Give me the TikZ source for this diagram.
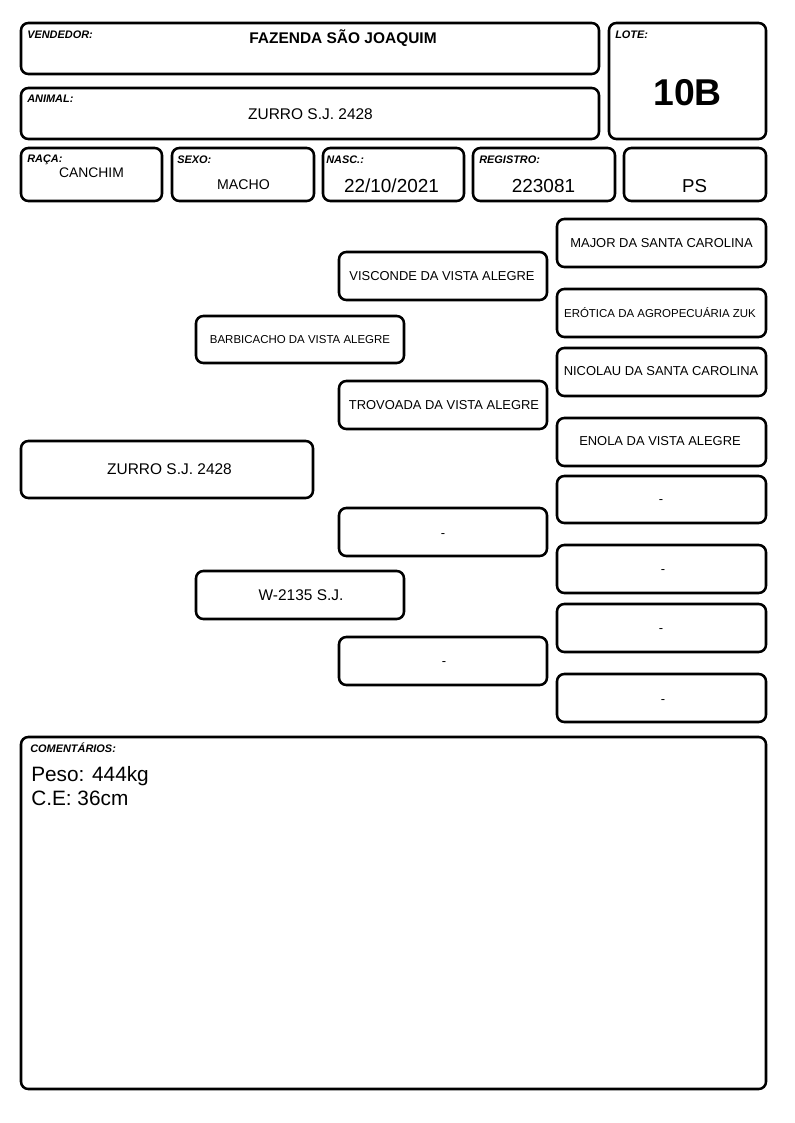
\documentclass[tikz,border=0pt]{standalone}
\usepackage{fontspec}
\setmainfont{Liberation Sans}
\newcommand\fs[1]{\fontsize{#1}{#1}\selectfont}
\begin{document}
\begin{tikzpicture}[x=0.75pt,y=-0.75pt,
  box/.style={draw=black,line width=1.9pt,rounded corners=5.5pt},
  lbl/.style={anchor=base west,inner sep=0pt,font=\fs{8.2pt}\bfseries\itshape},
  val/.style={anchor=base,inner sep=0pt},
  ped/.style={anchor=center,inner sep=0pt,font=\fs{9.7pt}},
  dashtxt/.style={anchor=base,inner sep=0pt,font=\fs{9.7pt}},
  pedsm/.style={anchor=center,inner sep=0pt,font=\fs{8.6pt}}]
\useasboundingbox[fill=white] (0,0) rectangle (794,1123);
% header boxes
\draw[box] (21,23) rectangle (599,74);
\draw[box] (609,23) rectangle (766,139);
\draw[box] (21,88) rectangle (599,139);
\draw[box] (21,148) rectangle (162,201);
\draw[box] (172,148) rectangle (314,201);
\draw[box] (323,148) rectangle (464,201);
\draw[box] (473,148) rectangle (615,201);
\draw[box] (624,148) rectangle (766,201);
\node[lbl] (lvend) at (27,39) {VENDEDOR:};
\node[val,font=\fs{11.6pt}\bfseries] (vend) at (343,44) {FAZENDA SÃO JOAQUIM};
\node[lbl] (llote) at (615,39) {LOTE:};
\node[val,font=\fs{28pt}\bfseries] (lote) at (687.5,106) {10B};
\node[lbl] (lanim) at (27,103) {ANIMAL:};
\node[val,font=\fs{11.6pt}] (anim) at (310.5,120) {ZURRO S.J. 2428};
\node[lbl] (lraca) at (27,163) {RAÇA:};
\node[val,font=\fs{10.4pt}] (raca) at (91.5,178) {CANCHIM};
\node[lbl] (lsexo) at (177,164) {SEXO:};
\node[val,font=\fs{10.6pt}] (sexo) at (243.5,190) {MACHO};
\node[lbl] (lnasc) at (326,164) {NASC.:};
\node[val,font=\fs{14.2pt}] (nasc) at (391.5,193) {22/10/2021};
\node[lbl] (lreg) at (479,164) {REGISTRO:};
\node[val,font=\fs{14.2pt}] (reg) at (543.5,193) {223081};
\node[val,font=\fs{14pt}] (ps) at (694.5,193) {PS};
% pedigree
\draw[box] (21,441) rectangle (313,498);
\node[anchor=center,inner sep=0pt,font=\fs{11.6pt}] (p0) at (169.5,469.5) {ZURRO S.J. 2428};
\draw[box] (196,316) rectangle (404,363);
\node[pedsm] (p1) at (300,339.5) {BARBICACHO DA VISTA ALEGRE};
\draw[box] (196,571) rectangle (404,619);
\node[anchor=center,inner sep=0pt,font=\fs{11.6pt}] (p2) at (301,595) {W-2135 S.J.};
\draw[box] (339,252) rectangle (547,300);
\node[ped] (p3) at (442,276) {VISCONDE DA VISTA ALEGRE};
\draw[box] (339,381) rectangle (547,429);
\node[ped] (p4) at (444,405) {TROVOADA DA VISTA ALEGRE};
\draw[box] (339,508) rectangle (547,556);
\node[dashtxt] (p5) at (443,537.5) {-};
\draw[box] (339,637) rectangle (547,685);
\node[dashtxt] (p6) at (444,665.5) {-};
\draw[box] (557,219) rectangle (766,267);
\node[ped] (p7) at (661.5,243) {MAJOR DA SANTA CAROLINA};
\draw[box] (557,289) rectangle (766,337);
\node[pedsm] (p8) at (660,313) {ERÓTICA DA AGROPECUÁRIA ZUK};
\draw[box] (557,348) rectangle (766,396);
\node[ped] (p9) at (661,371.5) {NICOLAU DA SANTA CAROLINA};
\draw[box] (557,418) rectangle (766,466);
\node[ped] (p10) at (660,441.5) {ENOLA DA VISTA ALEGRE};
\draw[box] (557,476) rectangle (766,523);
\node[dashtxt] (p11) at (661,503.5) {-};
\draw[box] (557,545) rectangle (766,593);
\node[dashtxt] (p12) at (663,573.5) {-};
\draw[box] (557,604) rectangle (766,652);
\node[dashtxt] (p13) at (661,632.5) {-};
\draw[box] (557,674) rectangle (766,722);
\node[dashtxt] (p14) at (663,703.5) {-};
% comments
\draw[box] (21,737) rectangle (766,1089);
\node[lbl] (lcom) at (30,752) {COMENTÁRIOS:};
\node[anchor=base west,inner sep=0pt,font=\fs{15.6pt}] (peso) at (31,781) {Peso: 444kg};
\node[anchor=base west,inner sep=0pt,font=\fs{15.6pt}] (ce) at (31,805) {C.E: 36cm};
\end{tikzpicture}
\end{document}
